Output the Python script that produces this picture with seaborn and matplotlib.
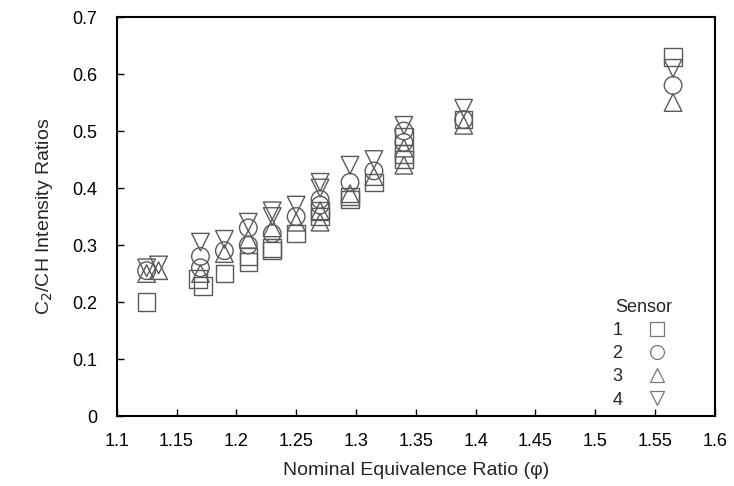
import matplotlib
matplotlib.use("Agg")
import matplotlib.pyplot as plt
from matplotlib.lines import Line2D
import seaborn as sns
import pandas as pd

sns.set_theme(style="ticks")
plt.rcParams['font.family'] = ['Liberation Sans', 'DejaVu Sans']

# Sensor 1 (squares)
s1_x = [1.125, 1.168, 1.172, 1.19, 1.21, 1.21, 1.23, 1.23, 1.25, 1.27, 1.27, 1.295, 1.295, 1.315, 1.34, 1.34, 1.34, 1.39, 1.565]
s1_y = [0.200, 0.240, 0.228, 0.250, 0.270, 0.280, 0.290, 0.295, 0.320, 0.350, 0.360, 0.380, 0.385, 0.410, 0.450, 0.460, 0.490, 0.520, 0.630]
# Sensor 2 (circles)
s2_x = [1.125, 1.17, 1.17, 1.19, 1.21, 1.21, 1.23, 1.25, 1.27, 1.27, 1.295, 1.315, 1.34, 1.34, 1.39, 1.565]
s2_y = [0.255, 0.280, 0.260, 0.290, 0.300, 0.330, 0.320, 0.350, 0.380, 0.370, 0.410, 0.430, 0.480, 0.500, 0.520, 0.580]
# Sensor 3 (triangles up)
s3_x = [1.125, 1.135, 1.17, 1.19, 1.21, 1.23, 1.25, 1.27, 1.27, 1.295, 1.315, 1.34, 1.34, 1.39, 1.565]
s3_y = [0.250, 0.255, 0.250, 0.285, 0.310, 0.330, 0.340, 0.360, 0.340, 0.390, 0.420, 0.440, 0.470, 0.510, 0.550]
# Sensor 4 (triangles down)
s4_x = [1.125, 1.135, 1.17, 1.19, 1.21, 1.23, 1.23, 1.25, 1.27, 1.27, 1.295, 1.315, 1.34, 1.39, 1.565]
s4_y = [0.260, 0.265, 0.305, 0.310, 0.340, 0.350, 0.360, 0.370, 0.400, 0.410, 0.440, 0.450, 0.510, 0.540, 0.610]

sensor_labels = ['1', '2', '3', '4']
sensor_markers = ['s', 'o', '^', 'v']

x_ticks = [1.1, 1.15, 1.2, 1.25, 1.3, 1.35, 1.4, 1.45, 1.5, 1.55, 1.6]
x_tick_labels = ['1.1', '1.15', '1.2', '1.25', '1.3', '1.35', '1.4', '1.45', '1.5', '1.55', '1.6']
y_ticks = [0, 0.1, 0.2, 0.3, 0.4, 0.5, 0.6, 0.7]
y_tick_labels = ['0', '0.1', '0.2', '0.3', '0.4', '0.5', '0.6', '0.7']

frames = []
for lab, xs, ys in zip(sensor_labels, [s1_x, s2_x, s3_x, s4_x], [s1_y, s2_y, s3_y, s4_y]):
    frames.append(pd.DataFrame({'phi': xs, 'ratio': ys, 'Sensor': lab}))
df = pd.concat(frames, ignore_index=True)

fig = plt.figure(figsize=(7.34, 4.86), dpi=100)
ax = fig.add_axes([0.159, 0.144, 0.815, 0.821])

edge = '#5a5a5a'
sns.scatterplot(data=df, x='phi', y='ratio', style='Sensor',
                markers=dict(zip(sensor_labels, sensor_markers)),
                s=160, facecolor='none', edgecolor=edge, linewidth=1.0,
                legend=False, ax=ax)

ax.set_xlim(1.1, 1.6)
ax.set_ylim(0, 0.7)
ax.set_xticks(x_ticks)
ax.set_xticklabels(x_tick_labels)
ax.set_yticks(y_ticks)
ax.set_yticklabels(y_tick_labels)
ax.tick_params(direction='in', length=5, width=1, labelsize=13, colors='black')
ax.tick_params(axis='y', pad=14)
ax.tick_params(axis='x', pad=12)
for sp in ax.spines.values():
    sp.set_linewidth(1.5)
    sp.set_color('black')

ax.set_xlabel('Nominal Equivalence Ratio (φ)', fontsize=14, labelpad=9)
ax.set_ylabel('C$_2$/CH Intensity Ratios', fontsize=14, labelpad=12)

handles = [Line2D([], [], linestyle='none', marker=m, markersize=10,
                  markerfacecolor='none', markeredgecolor='#777777', markeredgewidth=0.9)
           for m in sensor_markers]
leg = ax.legend(handles, sensor_labels, title='Sensor', loc='lower right',
                frameon=False, markerfirst=False, fontsize=13, title_fontsize=13,
                handletextpad=0.9, labelspacing=0.35, borderaxespad=0.0,
                bbox_to_anchor=(0.945, 0.0))
for t in leg.get_texts():
    t.set_ha('left')

fig.savefig('out.png', dpi=100)
